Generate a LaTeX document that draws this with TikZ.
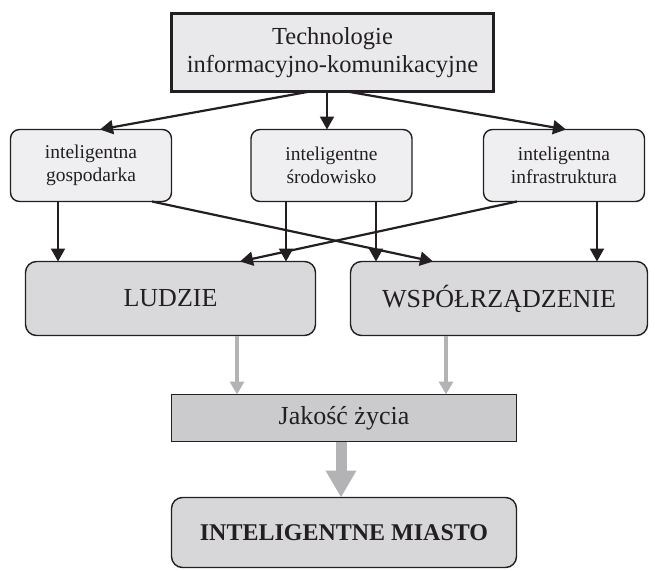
\documentclass[tikz,border=0pt]{standalone}
\usepackage{fontspec}
\setmainfont{Liberation Serif}
\usetikzlibrary{arrows.meta}
\definecolor{ink}{HTML}{231F20}
\definecolor{topfill}{HTML}{E9E9EB}
\definecolor{lightfill}{HTML}{EFEFF1}
\definecolor{midfill}{HTML}{D9D9DB}
\definecolor{darkfill}{HTML}{CBCBCD}
\definecolor{cityfill}{HTML}{D7D7D9}
\definecolor{grayarrow}{HTML}{B3B3B5}
\begin{document}
\begin{tikzpicture}[x=1pt,y=-1pt,
  every node/.style={inner sep=0pt, outer sep=0pt, text=ink},
  topbox/.style={draw=ink, line width=3pt, fill=topfill, minimum width=322pt, minimum height=78pt, align=center, font=\fontsize{24.5}{28}\selectfont},
  subbox/.style={draw=ink, line width=1.4pt, fill=lightfill, rounded corners=9pt, minimum width=161pt, minimum height=72pt, align=center, font=\fontsize{19.5}{23}\selectfont},
  bigbox/.style={draw=ink, line width=1.4pt, fill=midfill, rounded corners=11pt, minimum height=74pt, font=\fontsize{26}{30}\selectfont},
  lifebox/.style={draw=ink, line width=1.4pt, fill=darkfill, minimum width=345pt, minimum height=47pt, font=\fontsize{26}{30}\selectfont},
  citybox/.style={draw=ink, line width=1.4pt, fill=cityfill, rounded corners=11pt, minimum width=345pt, minimum height=70pt, font=\fontsize{24}{28}\selectfont\bfseries},
  blk/.style={draw=ink, line width=2.2pt, -{Triangle[length=13pt,width=14pt]}},
  gry/.style={draw=grayarrow, line width=3.3pt, -{Triangle[length=13pt,width=14pt]}},
  fat/.style={draw=grayarrow, line width=11pt, -{Triangle[length=27pt,width=29pt]}}
]
\useasboundingbox (0,0) rectangle (655,570);
\node[topbox] (tic) at (332.5,52.5) {Technologie\\informacyjno-komunikacyjne};
\node[subbox] (gosp) at (91,165.5) {inteligentna\\gospodarka};
\node[subbox] (srod) at (331.5,165.5) {inteligentne\\środowisko};
\node[subbox] (infr) at (564,165.5) {inteligentna\\infrastruktura};
\node[bigbox, minimum width=290pt] (ludzie) at (170.5,298.5) {LUDZIE};
\node[bigbox, minimum width=297pt] (wsp) at (499,298.5) {WSPÓŁRZĄDZENIE};
\node[lifebox] (jak) at (344,418) {Jakość życia};
\node[citybox] (city) at (344,532.5) {INTELIGENTNE MIASTO};

\draw[blk] ([xshift=-22.5pt]tic.south) -- ([xshift=9pt]gosp.north);
\draw[blk] ([xshift=-5.5pt]tic.south) -- ([xshift=-4.5pt]srod.north);
\draw[blk] ([xshift=14.5pt]tic.south) -- ([xshift=2pt]infr.north);

\draw[blk] ([xshift=-33pt]gosp.south) coordinate (g1) -- (g1 |- ludzie.north);
\draw[blk] ([xshift=61pt]gosp.south) -- ([xshift=-66pt]wsp.north);
\draw[blk] ([xshift=-45.5pt]srod.south) coordinate (s1) -- (s1 |- ludzie.north);
\draw[blk] ([xshift=44.5pt]srod.south) coordinate (s2) -- (s2 |- wsp.north);
\draw[blk] ([xshift=-47pt]infr.south) -- ([xshift=69.5pt]ludzie.north);
\draw[blk] ([xshift=33pt]infr.south) coordinate (i1) -- (i1 |- wsp.north);

\draw[gry] ([xshift=66.5pt]ludzie.south) coordinate (l1) -- (l1 |- jak.north);
\draw[gry] ([xshift=-53pt]wsp.south) coordinate (w1) -- (w1 |- jak.north);
\draw[fat] ([xshift=-3pt]jak.south) coordinate (j1) -- (j1 |- city.north);
\end{tikzpicture}
\end{document}
